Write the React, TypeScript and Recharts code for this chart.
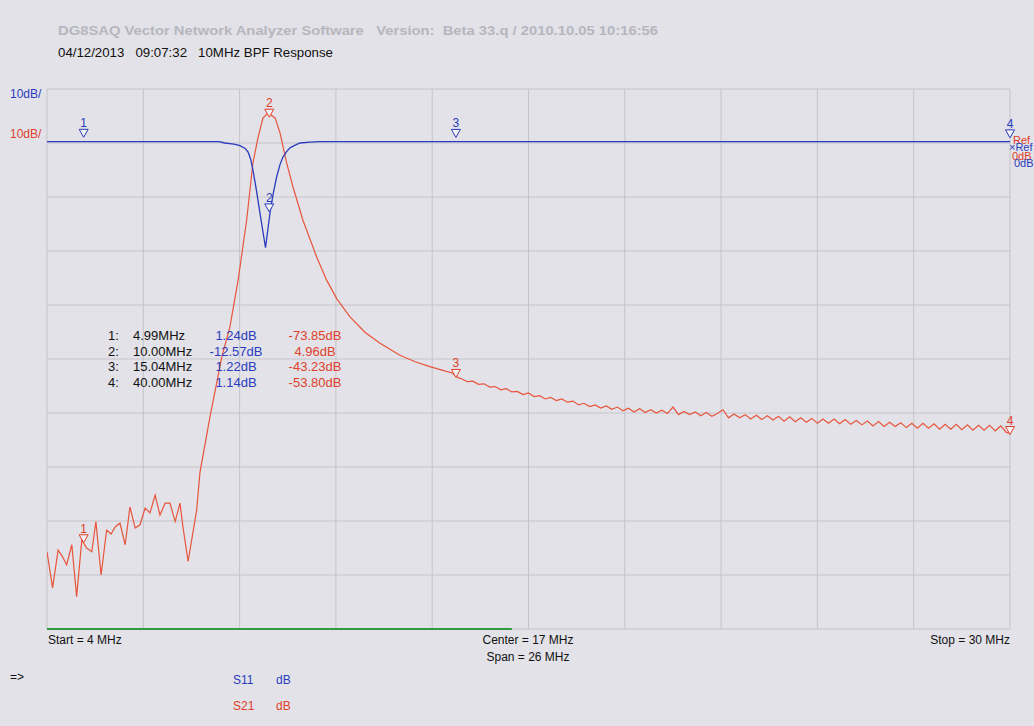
import { LineChart, Line, XAxis, YAxis, CartesianGrid, ReferenceDot, ReferenceLine } from "recharts"

const START_MHZ = 4
const STOP_MHZ = 30
const freqTicks = [4, 6.6, 9.2, 11.8, 14.4, 17, 19.6, 22.2, 24.8, 27.4, 30]
const dbTicks = [10, 0, -10, -20, -30, -40, -50, -60, -70, -80, -90]

// S11 trace, [MHz, dB]
const s11Trace: [number, number][] = [
  [4.0, 0.25], [8.65, 0.25], [8.8, 0.0], [9.05, -0.2], [9.21, -0.5], [9.35, -1.0],
  [9.43, -1.7], [9.5, -3.0], [9.56, -5.0], [9.65, -8.6], [9.75, -13.0], [9.9, -19.4],
  [10.02, -13.0], [10.11, -9.3], [10.2, -6.3], [10.29, -4.0], [10.37, -2.6], [10.47, -1.6],
  [10.56, -0.9], [10.7, -0.4], [10.83, 0.0], [11.1, 0.15], [11.37, 0.25], [30.0, 0.25],
]

// S21 trace, [MHz, dB]
const s21Trace: [number, number][] = [
  [4.0, -75.7], [4.15, -82.4], [4.3, -75.4], [4.41, -76.5], [4.53, -78.1], [4.67, -74.4],
  [4.8, -84.0], [4.94, -73.5], [5.07, -75.0], [5.21, -75.7], [5.32, -70.1], [5.46, -80.0],
  [5.61, -71.7], [5.73, -72.4], [5.84, -71.1], [5.97, -70.4], [6.11, -74.4], [6.24, -67.4],
  [6.38, -71.3], [6.51, -70.7], [6.65, -67.6], [6.78, -68.5], [6.92, -65.2], [7.05, -68.9],
  [7.19, -66.7], [7.32, -66.7], [7.46, -70.1], [7.59, -66.7], [7.67, -71.1], [7.81, -77.5],
  [8.04, -68.0], [8.13, -61.0], [8.4, -50.7], [8.72, -39.6], [8.94, -34.0], [9.16, -25.4],
  [9.39, -14.3], [9.56, -3.7], [9.7, 1.1], [9.83, 4.6], [9.97, 5.6], [10.16, 4.6],
  [10.29, 1.9], [10.47, -3.7], [10.64, -8.1], [10.91, -14.3], [11.28, -21.1], [11.55, -25.4],
  [11.83, -28.9], [12.18, -32.2], [12.59, -35.1], [12.99, -37.1], [13.53, -39.3], [13.94, -40.5],
  [14.34, -41.4], [14.64, -42.0], [14.94, -42.6], [15.09, -43.4],
  [15.2, -43.7], [15.35, -44.2], [15.5, -44.1], [15.65, -44.7], [15.8, -44.6], [15.95, -45.2],
  [16.1, -45.1], [16.25, -45.7], [16.4, -45.5], [16.55, -46.1], [16.7, -46.0], [16.85, -46.6],
  [17.0, -46.3], [17.15, -46.95], [17.3, -46.8], [17.45, -47.4], [17.6, -47.1], [17.75, -47.7],
  [17.9, -47.4], [18.05, -48.0], [18.2, -47.8], [18.35, -48.5], [18.5, -48.2], [18.65, -48.8],
  [18.8, -48.5], [18.95, -49.1], [19.1, -48.7], [19.25, -49.3], [19.4, -48.9], [19.55, -49.6],
  [19.7, -49.1], [19.85, -49.8], [20.0, -49.2], [20.15, -49.9], [20.3, -49.4], [20.45, -50.0],
  [20.6, -49.5], [20.75, -50.1], [20.9, -48.9], [21.05, -50.3], [21.2, -49.7], [21.35, -50.3],
  [21.5, -49.8], [21.65, -50.5], [21.8, -49.9], [21.95, -50.6], [22.1, -50.1], [22.25, -49.4],
  [22.4, -50.9], [22.55, -50.2], [22.7, -50.9], [22.85, -50.3], [23.0, -51.1], [23.15, -50.4],
  [23.3, -51.2], [23.45, -50.5], [23.6, -51.3], [23.75, -50.6], [23.9, -51.5], [24.05, -50.7],
  [24.2, -51.6], [24.35, -50.9], [24.5, -51.7], [24.65, -51.0], [24.8, -51.9], [24.95, -51.1],
  [25.1, -51.9], [25.25, -51.1], [25.4, -52.0], [25.55, -51.2], [25.7, -52.1], [25.85, -51.4],
  [26.0, -52.2], [26.15, -51.5], [26.3, -52.4], [26.45, -51.6], [26.6, -52.5], [26.75, -51.7],
  [26.9, -52.5], [27.05, -51.8], [27.2, -52.7], [27.35, -51.9], [27.5, -52.8], [27.65, -51.9],
  [27.8, -52.8], [27.95, -52.0], [28.1, -53.0], [28.25, -52.1], [28.4, -53.0], [28.55, -52.1],
  [28.7, -53.1], [28.85, -52.2], [29.0, -53.2], [29.15, -52.3], [29.3, -53.2], [29.45, -52.3],
  [29.6, -53.3], [29.75, -52.4], [29.9, -53.6], [30.0, -53.8],
]

// marker table
const markerNo = [1, 2, 3, 4]
const markerFreq = [4.99, 10.0, 15.04, 40.0]
const markerS11 = [1.24, -12.57, 1.22, 1.14]
const markerS21 = [-73.85, 4.96, -43.23, -53.8]

const BLUE = "#2a3cbc"
const RED = "#e8553c"
const RED_TXT = "#e0402a"
const BG = "#e2e2e8"
const GRID = "#c4c4ca"
const FONT = "'Liberation Sans', Arial, sans-serif"

const s11Data = s11Trace.map(([f, db]) => ({ f, db }))
const s21Data = s21Trace.map(([f, db]) => ({ f, db }))

function markerShape(no: number, color: string) {
  return (p: any) => {
    const { cx, cy } = p
    const b = cy + 1
    return (
      <g>
        <polygon
          points={`${cx - 4.5},${b - 8} ${cx + 4.5},${b - 8} ${cx},${b}`}
          fill="#f3f3f6"
          stroke={color}
          strokeWidth={1}
        />
        <text x={cx} y={b - 10} textAnchor="middle" fontSize={12} fontFamily={FONT} fill={color}>
          {no}
        </text>
      </g>
    )
  }
}

export default function App() {
  return (
    <div style={{ position: "absolute", left: 0, top: 0, width: 1034, height: 726, background: BG, overflow: "hidden" }}>
      <LineChart width={1034} height={726} data={s21Data} margin={{ top: 89, left: 47, right: 24, bottom: 97 }}>
        <CartesianGrid stroke={GRID} strokeWidth={1} />
        <XAxis dataKey="f" type="number" domain={[START_MHZ, STOP_MHZ]} ticks={freqTicks} allowDataOverflow hide />
        <YAxis type="number" domain={[-90, 10]} ticks={dbTicks} allowDataOverflow hide />
        <ReferenceLine
          segment={[{ x: START_MHZ, y: -90 }, { x: 16.55, y: -90 }]}
          stroke="#2f9a3e"
          strokeWidth={2}
        />
        <Line data={s21Data} dataKey="db" type="linear" stroke={RED} strokeWidth={1.2} dot={false} isAnimationActive={false} />
        <Line data={s11Data} dataKey="db" type="linear" stroke={BLUE} strokeWidth={1.3} dot={false} isAnimationActive={false} />
        {markerNo.map((n, i) => (
          <ReferenceDot
            key={`s11-${n}`}
            x={Math.min(markerFreq[i], STOP_MHZ)}
            y={markerS11[i]}
            ifOverflow="visible"
            shape={markerShape(n, BLUE)}
          />
        ))}
        {markerNo.map((n, i) => (
          <ReferenceDot
            key={`s21-${n}`}
            x={Math.min(markerFreq[i], STOP_MHZ)}
            y={markerS21[i]}
            ifOverflow="visible"
            shape={markerShape(n, RED_TXT)}
          />
        ))}
      </LineChart>
      <svg width={1034} height={726} style={{ position: "absolute", left: 0, top: 0, pointerEvents: "none" }} fontFamily={FONT}>
        <text x={58} y={35} fontSize={13} fontWeight="bold" fill="#b6b6be" textLength={600} lengthAdjust="spacingAndGlyphs" xmlSpace="preserve">
          DG8SAQ Vector Network Analyzer Software   Version:  Beta 33.q / 2010.10.05 10:16:56
        </text>
        <text x={58} y={57} fontSize={13} fill="#111" textLength={275} lengthAdjust="spacingAndGlyphs" xmlSpace="preserve">
          04/12/2013   09:07:32   10MHz BPF Response
        </text>
        <text x={10} y={98} fontSize={12} fill={BLUE}>10dB/</text>
        <text x={10} y={138} fontSize={12} fill={RED_TXT}>10dB/</text>

        <text x={1013} y={144} fontSize={11} fill={RED_TXT}>Ref</text>
        <text x={1009} y={151} fontSize={11} fill={BLUE}>×Ref</text>
        <text x={1012} y={160} fontSize={11} fill={RED_TXT}>0dB</text>
        <text x={1014} y={167} fontSize={11} fill={BLUE}>0dB</text>

        {markerNo.map((n, i) => (
          <g key={`row-${n}`} fontSize={13}>
            <text x={108} y={340 + i * 15.6} fill="#111">{`${n}:`}</text>
            <text x={133} y={340 + i * 15.6} fill="#111">{`${markerFreq[i].toFixed(2)}MHz`}</text>
            <text x={236} y={340 + i * 15.6} fill={BLUE} textAnchor="middle">{`${markerS11[i].toFixed(2)}dB`}</text>
            <text x={315} y={340 + i * 15.6} fill={RED_TXT} textAnchor="middle">{`${markerS21[i].toFixed(2)}dB`}</text>
          </g>
        ))}

        <text x={48} y={644} fontSize={12} fill="#111">Start = 4 MHz</text>
        <text x={528} y={644} fontSize={12} fill="#111" textAnchor="middle">Center = 17 MHz</text>
        <text x={528} y={661} fontSize={12} fill="#111" textAnchor="middle">Span = 26 MHz</text>
        <text x={1010} y={644} fontSize={12} fill="#111" textAnchor="end">Stop = 30 MHz</text>
        <text x={10} y={681} fontSize={12} fill="#111">=&gt;</text>
        <text x={233} y={684} fontSize={12} fill={BLUE}>S11</text>
        <text x={276} y={684} fontSize={12} fill={BLUE}>dB</text>
        <text x={233} y={710} fontSize={12} fill={RED_TXT}>S21</text>
        <text x={276} y={710} fontSize={12} fill={RED_TXT}>dB</text>
      </svg>
    </div>
  )
}
